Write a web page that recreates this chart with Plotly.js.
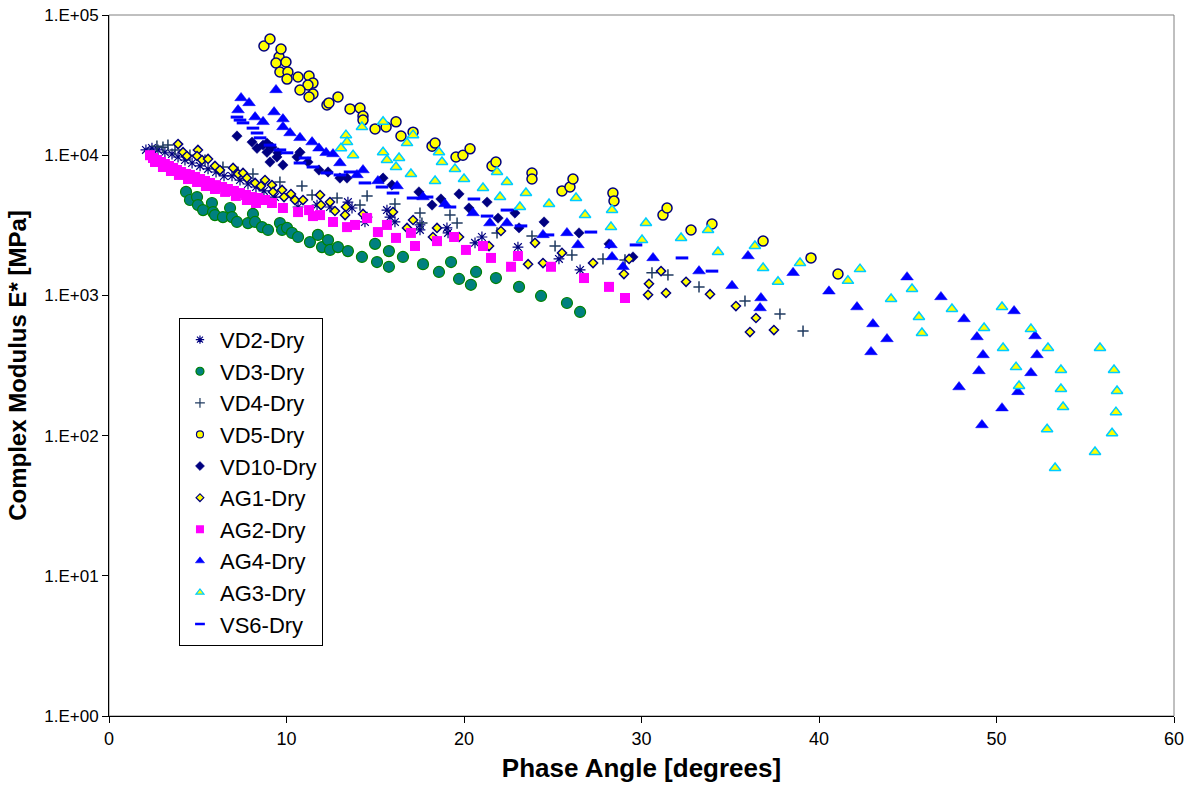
<!DOCTYPE html>
<html>
<head>
<meta charset="utf-8">
<script src="https://cdn.plot.ly/plotly-3.0.1.min.js"></script>
<style>html,body{margin:0;padding:0;background:#fff;}#chart{width:1195px;height:791px;}</style>
</head>
<body>
<div id="chart"></div>
<script>
// ---- data (phase angle [deg], |E*| [MPa]) ----
const seriesNames = ["VD2-Dry","VD3-Dry","VD4-Dry","VD5-Dry","VD10-Dry","AG1-Dry","AG2-Dry","AG4-Dry","AG3-Dry","VS6-Dry"];

const vd2X = [2.08,2.42,2.76,3.15,3.55,3.89,4.28,4.68,5.13,5.58,6.03,6.48,6.93,7.38,7.83,8.28,8.73,9.35,10.65,11.72,12.45,13.46,13.69,14.54,14.42,15.66,15.83,16.11,17.52,17.52,19.04,19.10,20.62,21.01,23.04,25.35,26.54];
const vd2Y = [10900,11250,10900,10500,10200,9710,9240,8800,8380,7980,7590,7110,7110,6650,6230,5930,5560,5030,4270,4410,4270,4630,4200,3620,3340,4060,3620,3340,3180,2930,3030,2790,2370,2610,2210,1820,1520];

const vd3X = [4.34,4.56,4.96,5.01,5.30,5.80,5.86,5.97,6.42,6.82,6.93,7.21,7.83,8.11,8.23,8.62,8.96,9.63,9.75,10.03,10.31,10.65,11.32,11.77,12.0,12.34,12.45,12.90,13.46,14.25,14.99,15.10,15.77,15.77,16.56,17.69,18.59,19.27,19.72,20.39,20.68,21.80,23.10,24.34,25.80,26.54];
const vd3Y = [5470,4790,5030,4410,4060,4560,3930,3740,3620,4200,3620,3340,3280,3810,3340,3070,2930,3280,2930,3030,2790,2610,2400,2700,2210,2480,2110,2210,2070,1880,2330,1730,2070,1600,1880,1670,1470,1730,1310,1190,1470,1330,1150,991,883,762];

const vd4X = [2.70,3.04,3.32,3.72,4.56,5.41,6.42,7.27,8.11,9.63,10.87,11.44,12.85,14.14,14.54,16.11,17.52,17.63,19.21,19.61,21.86,23.83,25.13,26.08,27.83,29.07,30.59,31.49,33.24,35.83,37.80,39.10];
const vd4Y = [11600,11400,11800,10900,10000,9240,8240,7590,7350,6440,6030,5200,4950,4410,5120,4490,3870,3280,3740,3280,2790,2650,2250,1940,1820,1790,1450,1400,1150,912,737,557];

const vd5X = [8.73,9.07,9.58,9.69,9.41,9.97,9.63,10.08,10.03,10.65,11.27,11.49,11.21,10.76,11.49,11.27,12.28,12.39,12.90,13.58,14.14,14.31,14.31,14.99,15.61,16.17,16.45,17.13,18.20,18.37,19.55,19.94,20.34,21.58,21.80,23.83,23.83,25.52,25.97,26.14,28.39,28.45,31.21,31.44,32.79,33.97,36.85,39.55,41.07];
const vd5Y = [60100,67400,50200,57200,45500,46200,39200,39200,34900,36100,36700,32700,31700,29200,27300,26000,22800,23600,26000,21400,21700,19000,17800,15400,15900,17300,13700,14600,11600,12200,9710,10000,11100,8380,8940,7470,6760,5560,5930,6760,5370,4710,3740,4200,2930,3230,2440,1850,1420];

const vd10X = [7.21,8.06,8.90,8.34,9.18,8.90,9.46,10.76,10.59,11.21,8.68,9.52,9.07,9.80,11.83,12.34,13.41,13.01,15.44,15.94,17.46,18.20,18.70,19.72,20.28,21.30,21.92,22.87,23.10,24.51,26.48,28.17,29.52];
const vd10Y = [13700,12400,12200,11200,11400,10500,9710,10500,9710,8940,11800,10400,8940,8510,7840,7590,6870,6870,6870,6130,5470,4410,4870,5290,4200,4630,3560,3870,3030,3340,2790,2330,1880];

const ag1X = [3.89,4.17,4.39,5.01,4.96,5.24,5.58,5.97,6.25,6.99,7.27,7.55,7.77,8.23,8.79,8.56,9.18,9.24,9.75,9.86,10.25,10.48,10.93,11.89,11.94,12.45,12.73,13.35,13.30,14.31,16.0,17.13,16.79,18.48,18.25,19.72,21.41,22.08,24.0,23.61,24.45,25.52,27.27,29.01,29.30,30.42,31.10,30.37,31.38,32.51,33.86,35.32,36.45,36.11,37.46];
const ag1Y = [12000,10500,9870,10900,9870,9240,9400,8380,7840,8110,7350,7470,6870,6340,6650,6030,6120,5470,5650,5030,5280,4790,4790,5200,4410,4630,4000,4270,3740,3810,3930,3450,3030,3030,2610,2610,2250,2880,2370,1670,1700,2010,1700,1420,1820,1210,1490,1010,1040,1250,1020,840,690,548,566];

const ag2X = [2.31,2.48,2.70,2.93,3.15,3.38,3.61,3.83,4.06,4.34,4.56,4.85,5.13,5.41,5.69,6.03,6.37,6.70,7.04,7.38,7.72,8.06,8.39,8.79,9.18,9.80,10.65,11.27,11.49,11.89,12.62,13.41,13.86,14.54,15.15,15.66,16.17,17.01,17.24,18.48,19.44,20.11,21.07,21.52,22.65,23.04,24.90,26.76,28.17,29.07,2.59,3.04,3.49,3.94,4.45,4.96,5.46,5.97,6.54,7.15,7.77,8.28];
const ag2Y = [10000,9550,9240,8940,8650,8380,8110,7840,7590,7350,7230,7000,6760,6550,6340,6120,5930,5740,5560,5370,5200,5030,4950,4790,4560,4200,3930,4060,3680,3740,3340,3070,3180,3560,2830,3180,2570,2790,2250,2440,2610,2110,2250,1850,1600,1910,1600,1330,1150,958,8940,8240,7710,7230,6760,6440,6030,5740,5470,5120,4790,4560];

const ag4X = [9.41,7.44,7.89,7.27,9.30,8.23,8.68,9.80,9.80,10.20,10.76,11.44,11.83,12.23,12.62,13.01,14.31,13.97,15.15,16.23,17.69,18.93,20.51,21.46,22.42,24.45,25.80,26.42,28.28,28.34,28.96,30.65,33.24,35.10,36.0,36.73,36.68,38.54,40.56,42.14,43.04,43.83,42.93,44.96,46.87,48.17,48.90,49.24,49.01,47.89,50.31,49.18,50.99,52.17,52.28,51.94,51.21];
const ag4Y = [29200,25600,23600,21000,20300,18700,17300,18100,15900,14400,13300,12400,11200,10400,10200,8800,7840,7230,6550,6030,5030,4490,3870,3280,3280,2700,2790,2290,2290,1880,1600,1850,1490,1170,1910,958,813,1450,1070,826,625,489,395,1350,975,679,505,376,289,222,157,119,774,513,376,280,205];

const ag3X = [14.25,13.35,13.41,13.07,13.75,15.44,15.44,15.66,16.34,16.17,16.79,17.13,17.01,18.59,18.76,18.37,19.49,20.0,21.86,21.07,22.42,22.03,23.49,23.15,24.79,26.31,26.82,28.34,28.28,30.25,30.03,32.23,33.75,34.31,36.39,36.85,37.69,38.93,41.63,42.31,44.06,45.24,45.63,45.80,47.49,49.30,50.31,50.37,51.10,51.27,51.94,52.90,53.63,53.63,53.75,52.85,53.30,55.83,56.62,56.79,56.73,56.51,55.55];
const ag3Y = [15900,13900,12400,11200,10000,17300,10500,9240,9550,8240,12200,13900,7350,10500,8950,6550,7970,6760,7590,5830,6440,5030,5370,4270,4490,4950,3740,4060,3070,3280,2480,2570,2930,2040,2250,1570,1250,1700,1270,1540,942,1110,702,539,800,585,826,422,308,226,575,422,294,215,160,111,58.7,422,294,208,147,104,76.4];

const vs6X = [7.21,7.38,7.55,8.11,8.34,8.51,9.07,9.63,10.03,10.76,11.04,11.49,12.28,13.01,13.58,14.42,15.38,16.0,17.13,17.92,19.21,20.56,21.30,22.42,23.21,24.73,27.15,29.69,32.28,33.97];
const vs6Y = [18700,17800,17000,15600,14400,13300,11800,10900,10400,8800,9550,8240,7470,7230,7590,6340,5930,5370,4950,5030,4270,4870,3680,4060,3130,2700,2830,2290,1850,1490];

const yTickVals = [1,10,100,1000,10000,100000];
const yTickText = ["1.E+00","1.E+01","1.E+02","1.E+03","1.E+04","1.E+05"];
const xTickVals = [0,10,20,30,40,50,60];

// ---- styles ----
const styles = [
  {symbol:"asterisk-open", size:9, color:"#000080", lc:"#000080", lw:1.2, ls:7},
  {symbol:"circle", size:11, color:"#008080", lc:"#008000", lw:1.2, ls:8},
  {symbol:"cross-thin-open", size:8, color:"#1F3A60", lc:"#1F3A60", lw:1.5, ls:7},
  {symbol:"circle", size:10, color:"#FFFF00", lc:"#000080", lw:1.5, ls:7},
  {symbol:"diamond", size:8, color:"#000080", lc:"#000080", lw:0.5, ls:7},
  {symbol:"diamond", size:7, color:"#FFFF00", lc:"#000080", lw:1.5, ls:6},
  {symbol:"square", size:10, color:"#FF00FF", lc:"#FF00FF", lw:0, ls:8},
  {symbol:"triangle-up", size:11, color:"#0000FF", lc:"#0000FF", lw:0.5, ls:8},
  {symbol:"triangle-up", size:10, color:"#FFFF00", lc:"#00CCFF", lw:1.5, ls:7},
  {symbol:"line-ew-open", size:9, color:"#0000FF", lc:"#0000FF", lw:3, ls:7}
];
const xs = [vd2X,vd3X,vd4X,vd5X,vd10X,ag1X,ag2X,ag4X,ag3X,vs6X];
const ys = [vd2Y,vd3Y,vd4Y,vd5Y,vd10Y,ag1Y,ag2Y,ag4Y,ag3Y,vs6Y];

const traces = [];
seriesNames.forEach((n,i)=>{
  const s = styles[i];
  traces.push({type:"scatter", mode:"markers", name:n, x:xs[i], y:ys[i], showlegend:false,
    marker:{symbol:s.symbol, size:s.size, color:s.color, line:{color:s.lc, width:s.lw}}, hoverinfo:"x+y+name"});
});
seriesNames.forEach((n,i)=>{
  const s = styles[i];
  traces.push({type:"scatter", mode:"markers", name:n, x:[null], y:[null], showlegend:true,
    marker:{symbol:s.symbol, size:s.ls, color:s.color, line:{color:s.lc, width:(i===9?2.5:Math.min(s.lw,1.2))}}});
});

const font = "Liberation Sans, Arial, sans-serif";
const layout = {
  width:1195, height:791,
  paper_bgcolor:"#ffffff", plot_bgcolor:"#ffffff",
  margin:{l:109, r:21, t:15, b:75},
  font:{family:font, color:"#000"},
  showlegend:true,
  legend:{x:0.0657, y:0.568, xanchor:"left", yanchor:"top", bgcolor:"#ffffff",
    bordercolor:"#000000", borderwidth:1, font:{family:font, size:22, color:"#000"},
    itemwidth:30, tracegroupgap:0},
  xaxis:{range:[0,60], tickvals:xTickVals, ticks:"outside", ticklen:6, tickcolor:"#000",
    showgrid:false, zeroline:false, showline:true, linecolor:"#000", linewidth:1, mirror:false,
    tickfont:{family:font, size:18, color:"#000"},
    title:{text:"Phase Angle [degrees]", font:{family:font, size:26, color:"#000", weight:"bold"}, standoff:11}},
  yaxis:{type:"log", range:[0,5], tickvals:yTickVals, ticktext:yTickText, ticks:"outside", ticklen:6, tickcolor:"#000",
    showgrid:false, zeroline:false, showline:true, linecolor:"#000", linewidth:1,
    tickfont:{family:font, size:17, color:"#000"},
    title:{text:"Complex Modulus E* [MPa]", font:{family:font, size:24, color:"#000", weight:"bold"}, standoff:10}},
  shapes:[{type:"rect", xref:"paper", yref:"paper", x0:0, x1:1, y0:0, y1:1, line:{color:"#808080", width:1}, layer:"below"}]
};
Plotly.newPlot("chart", traces, layout, {displayModeBar:false, staticPlot:true});
</script>
</body>
</html>
